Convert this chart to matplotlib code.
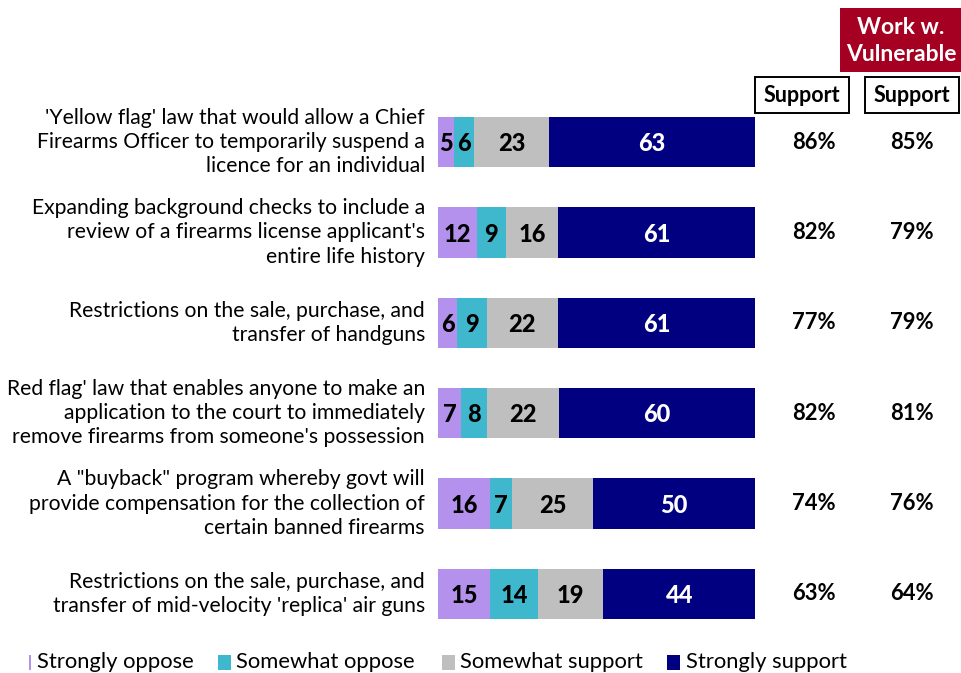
import matplotlib
matplotlib.use("Agg")
import matplotlib.pyplot as plt
from matplotlib.patches import Rectangle
import numpy as np

plt.rcParams['font.family'] = ['Lato', 'DejaVu Sans']

categories = [
    "'Yellow flag' law that would allow a Chief\nFirearms Officer to temporarily suspend a\nlicence for an individual",
    "Expanding background checks to include a\nreview of a firearms license applicant's\nentire life history",
    "Restrictions on the sale, purchase, and\ntransfer of handguns",
    "Red flag' law that enables anyone to make an\napplication to the court to immediately\nremove firearms from someone's possession",
    "A \"buyback\" program whereby govt will\nprovide compensation for the collection of\ncertain banned firearms",
    "Restrictions on the sale, purchase, and\ntransfer of mid-velocity 'replica' air guns",
]
strongly_oppose = [5, 12, 6, 7, 16, 15]
somewhat_oppose = [6, 9, 9, 8, 7, 14]
somewhat_support = [23, 16, 22, 22, 25, 19]
strongly_support = [63, 61, 61, 60, 50, 44]
support_total = [86, 82, 77, 82, 74, 63]
support_vulnerable = [85, 79, 79, 81, 76, 64]
series_names = ["Strongly oppose", "Somewhat oppose", "Somewhat support", "Strongly support"]

colors = ["#B491EC", "#3FB8CE", "#BFBFBF", "#000080"]
text_colors = ["black", "black", "black", "white"]

W, H = 962, 673
fig = plt.figure(figsize=(W / 100, H / 100), dpi=100)

def px(x0, y0, x1, y1):
    # convert a pixel box (top-left origin) to a figure-fraction rect
    return [x0 / W, 1 - y1 / H, (x1 - x0) / W, (y1 - y0) / H]

row_top, row_bot = 97, 639
ax = fig.add_axes(px(438, row_top, 755, row_bot))
ax.set_xlim(0, 1)
ax.set_ylim(len(categories) - 0.5, -0.5)
ax.axis('off')

series = np.array([strongly_oppose, somewhat_oppose, somewhat_support, strongly_support], dtype=float)
totals = series.sum(axis=0)
shares = series / totals
y = np.arange(len(categories))
left = np.zeros(len(categories))
for k in range(4):
    ax.barh(y, shares[k], left=left, height=0.555, color=colors[k], edgecolor='none')
    for i in range(len(categories)):
        ax.text(left[i] + shares[k][i] / 2, y[i] + 0.02, f"{int(series[k][i])}",
                ha='center', va='center', fontsize=17, fontweight='black',
                color=text_colors[k])
    left += shares[k]

# category labels to the left of the bars
for i, lab in enumerate(categories):
    ax.text(-13 / 317, y[i], lab, ha='right', va='center', fontsize=15.2,
            linespacing=1.27)

# support columns
for i in range(len(categories)):
    ax.text((814 - 438) / 317, y[i], f"{support_total[i]}%", ha='center', va='center',
            fontsize=15.8, fontweight='bold', clip_on=False)
    ax.text((912 - 438) / 317, y[i], f"{support_vulnerable[i]}%", ha='center', va='center',
            fontsize=15.8, fontweight='bold', clip_on=False)

# column headers
for (x0, x1) in [(755, 849), (865, 959)]:
    fig.add_artist(Rectangle((x0 / W, 1 - 113 / H), (x1 - x0) / W, 36 / H,
                             transform=fig.transFigure, facecolor='white',
                             edgecolor='black', linewidth=1.4))
    fig.text((x0 + x1) / 2 / W, 1 - 96 / H, "Support", ha='center', va='center',
             fontsize=15.5, fontweight='bold')
fig.add_artist(Rectangle((840 / W, 1 - 72 / H), 122 / W, 64 / H,
                         transform=fig.transFigure, facecolor='#A50021', edgecolor='none'))
fig.text(901 / W, 1 - 41 / H, "Work w.\nVulnerable", ha='center', va='center',
         fontsize=16.5, fontweight='bold', color='white', linespacing=1.35)

# legend
leg_y = 662
legend_items = [(29, 2, 37), (218, 13, 236), (442, 13, 460), (667, 13, 686)]
for (sx, sw, tx), name, c in zip(legend_items, series_names, colors):
    fig.add_artist(Rectangle((sx / W, 1 - (leg_y + 8) / H), sw / W, 15 / H,
                             transform=fig.transFigure, facecolor=c, edgecolor='none'))
    fig.text(tx / W, 1 - leg_y / H, name, ha='left', va='center', fontsize=15.8)

fig.savefig("out.png", dpi=100)
